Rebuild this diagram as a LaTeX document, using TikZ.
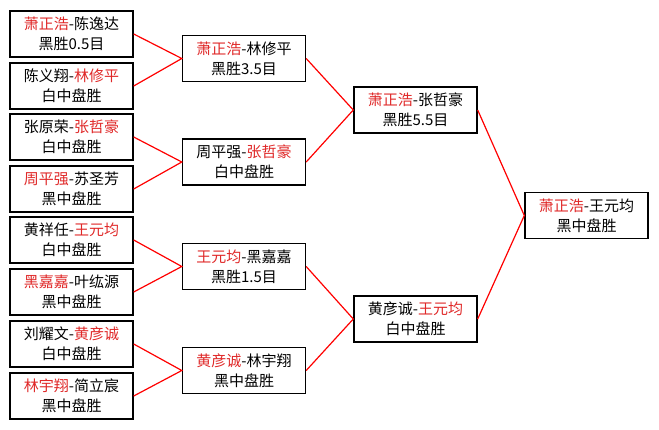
\documentclass[tikz,border=0pt]{standalone}
\usepackage{fontspec}
\usepackage{xcolor}
\usepackage{tikz}
\newfontfamily\cjk{Noto Sans CJK SC}
\definecolor{winred}{RGB}{224,40,40}
\newcommand{\win}[1]{\textcolor{winred}{#1}}
\tikzset{
  game/.style={draw, fill=white, line width=1.4pt, align=center,
               minimum width=123pt, minimum height=46pt, inner sep=0pt,
               font=\cjk\fontsize{15}{20}\selectfont},
  link/.style={draw=red, line width=1.2pt}
}

\begin{document}
\begin{tikzpicture}[x=1pt,y=-1pt]
  \fill[white] (0,0) rectangle (659,429);
  \useasboundingbox (0,0) rectangle (659,429);
  % first round
  \node[game] (r1a) at (71.5,34)  {\win{萧正浩}-陈逸达\\黑胜0.5目};
  \node[game] (r1b) at (71.5,86)  {陈义翔-\win{林修平}\\白中盘胜};
  \node[game] (r1c) at (71.5,137) {张原荣-\win{张哲豪}\\白中盘胜};
  \node[game] (r1d) at (71.5,189) {\win{周平强}-苏圣芳\\黑中盘胜};
  \node[game] (r1e) at (71.5,240) {黄祥任-\win{王元均}\\白中盘胜};
  \node[game] (r1f) at (71.5,292) {\win{黑嘉嘉}-叶纮源\\黑中盘胜};
  \node[game] (r1g) at (71.5,344) {刘耀文-\win{黄彦诚}\\白中盘胜};
  \node[game] (r1h) at (71.5,396) {\win{林宇翔}-简立宸\\黑中盘胜};
  % quarter finals
  \node[game] (r2a) at (244,58.5)  {\win{萧正浩}-林修平\\黑胜3.5目};
  \node[game] (r2b) at (244,162)   {周平强-\win{张哲豪}\\白中盘胜};
  \node[game] (r2c) at (244,266.5) {\win{王元均}-黑嘉嘉\\黑胜1.5目};
  \node[game] (r2d) at (244,370.5) {\win{黄彦诚}-林宇翔\\黑中盘胜};
  % semi finals
  \node[game] (r3a) at (415.5,110) {\win{萧正浩}-张哲豪\\黑胜5.5目};
  \node[game] (r3b) at (415.5,319) {黄彦诚-\win{王元均}\\白中盘胜};
  % final
  \node[game] (fin) at (586.5,215.5) {\win{萧正浩}-王元均\\黑中盘胜};
  \draw[link] (r1a.east) -- (r2a.west) -- (r1b.east);
  \draw[link] (r1c.east) -- (r2b.west) -- (r1d.east);
  \draw[link] (r1e.east) -- (r2c.west) -- (r1f.east);
  \draw[link] (r1g.east) -- (r2d.west) -- (r1h.east);
  \draw[link] (r2a.east) -- (r3a.west) -- (r2b.east);
  \draw[link] (r2c.east) -- (r3b.west) -- (r2d.east);
  \draw[link] (r3a.east) -- (fin.west) -- (r3b.east);
\end{tikzpicture}
\end{document}
